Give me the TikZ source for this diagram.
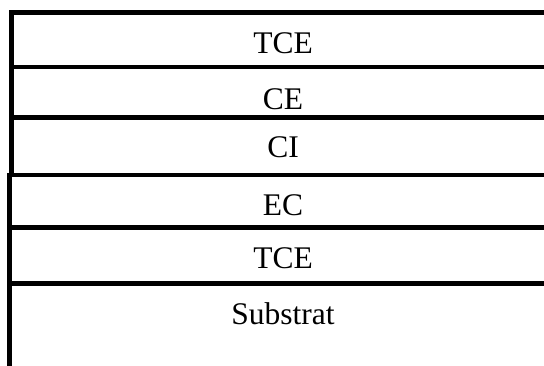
\documentclass[tikz,border=0pt]{standalone}
\usepackage{fontspec}
\setmainfont{Liberation Serif}
\begin{document}
\begin{tikzpicture}[x=1pt,y=-1pt,
  rule/.style={line width=4.5pt, line join=miter},
  layer/.style={anchor=base, inner sep=0pt, font=\fontsize{31.5}{36}\selectfont}]
\useasboundingbox (0,0) rectangle (544,366);
% outer frame: upper and lower left edges are slightly offset
\draw[rule] (560,12.5) -- (11.5,12.5) -- (11.5,177);
\draw[rule] (9.7,173) -- (9.7,370);
% layer boundaries
\draw[rule] (9.3,67) -- (560,67);
\draw[rule] (9.3,117.5) -- (560,117.5);
\draw[rule] (7.5,175) -- (560,175);
\draw[rule] (7.5,227.7) -- (560,227.7);
\draw[rule] (7.5,283.3) -- (560,283.3);
% layer names
\node[layer] (tce1) at (283,53.3) {TCE};
\node[layer] (ce)   at (283,109.3) {CE};
\node[layer] (ci)   at (283,157.3) {CI};
\node[layer] (ec)   at (283,216) {EC};
\node[layer] (tce2) at (283,268.3) {TCE};
\node[layer] (sub)  at (283,325) {Substrat};
\end{tikzpicture}
\end{document}
